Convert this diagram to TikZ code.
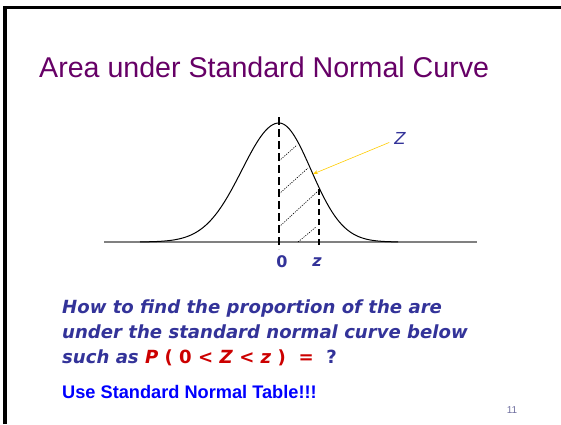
\documentclass[tikz,border=0pt]{standalone}
\usepackage{fontspec}
\setmainfont{Liberation Sans}
\newfontfamily\vfont{DejaVu Sans}
\usetikzlibrary{arrows.meta}
\definecolor{titlepurple}{HTML}{660066}
\definecolor{textblue}{HTML}{333399}
\definecolor{probred}{HTML}{CC0000}
\definecolor{tableblue}{HTML}{0000FF}
\definecolor{pagegray}{HTML}{7070A0}
\definecolor{arrowyellow}{HTML}{FFCC00}
\begin{document}
\begin{tikzpicture}[x=1pt, y=-1pt,
  frame/.style={line width=3.5pt, black},
  axis/.style={line width=1.5pt, gray},
  curve/.style={line width=1pt, black},
  zeroline/.style={line width=2.4pt, dash pattern=on 8pt off 4pt},
  zline/.style={line width=1.6pt, dash pattern=on 6pt off 4pt},
  hatch/.style={line width=0.6pt, dash pattern=on 1.2pt off 1.2pt},
  tick/.style={font=\vfont\bfseries\fontsize{16}{18}\selectfont, text=textblue},
  question/.style={anchor=base west, inner sep=0pt, text=textblue,
                   font=\vfont\bfseries\itshape\fontsize{18.1}{22}\selectfont},
  arr/.style={-{Stealth[length=5pt, width=4pt]}, arrowyellow, line width=0.6pt}
]
  \useasboundingbox (0,0) rectangle (561,424);

  % Slide frame
  \draw[frame] (5,424) -- (5,7.5) -- (561,7.5);

  % Title
  \node[anchor=base west, inner sep=0pt, text=titlepurple,
        font=\fontsize{28.6}{34}\selectfont] (title) at (39,77)
        {Area under Standard Normal Curve};

  % Axis and curve
  \draw[axis] (104,242) -- (477,242);
  \draw[curve] plot[domain=-139:0, samples=70] ({279+\x}, {242-119*exp(-(\x/37)*(\x/37)/2)})
            -- plot[domain=0:119, samples=70] ({279+\x}, {242-119*exp(-(\x/32)*(\x/32)/2)});

  % Shaded area
  \draw[hatch] (279,161) -- (297,145);
  \draw[hatch] (279,194) -- (308,168);
  \draw[hatch] (279,227) -- (318,191);
  \draw[hatch] (298,242) -- (316,227);

  % Bounds
  \draw[zeroline] (279,117) -- (279,249);
  \draw[zline] (319,189) -- (319,248);
  \node[tick] (zero) at (282,262) {0};
  \node[tick] (zval) at (317,262) {\itshape z};

  % Label for Z
  \node[text=textblue, font=\vfont\itshape\fontsize{16.5}{18}\selectfont,
        inner sep=5pt] (zlab) at (400,138) {Z};
  \coordinate (hit) at (313,174);
  \draw[arr] (zlab) -- (hit);

  % Question
  \node[question] (q1) at (62,313) {How to find the proportion of the are};
  \node[question] (q2) at (62,338) {under the standard normal curve below};
  \node[question] (q3) at (62,363) {such as \textcolor{probred}{P \textup{( 0 <} Z \textup{<} z \textup{)\ \ =}}\ \ \textup{?}};

  \node[anchor=base west, inner sep=0pt, text=tableblue,
        font=\bfseries\fontsize{18.2}{20}\selectfont] (use) at (62,398)
        {Use Standard Normal Table!!!};
  \node[text=pagegray, font=\fontsize{10}{12}\selectfont] (page) at (512,410) {11};
\end{tikzpicture}
\end{document}
